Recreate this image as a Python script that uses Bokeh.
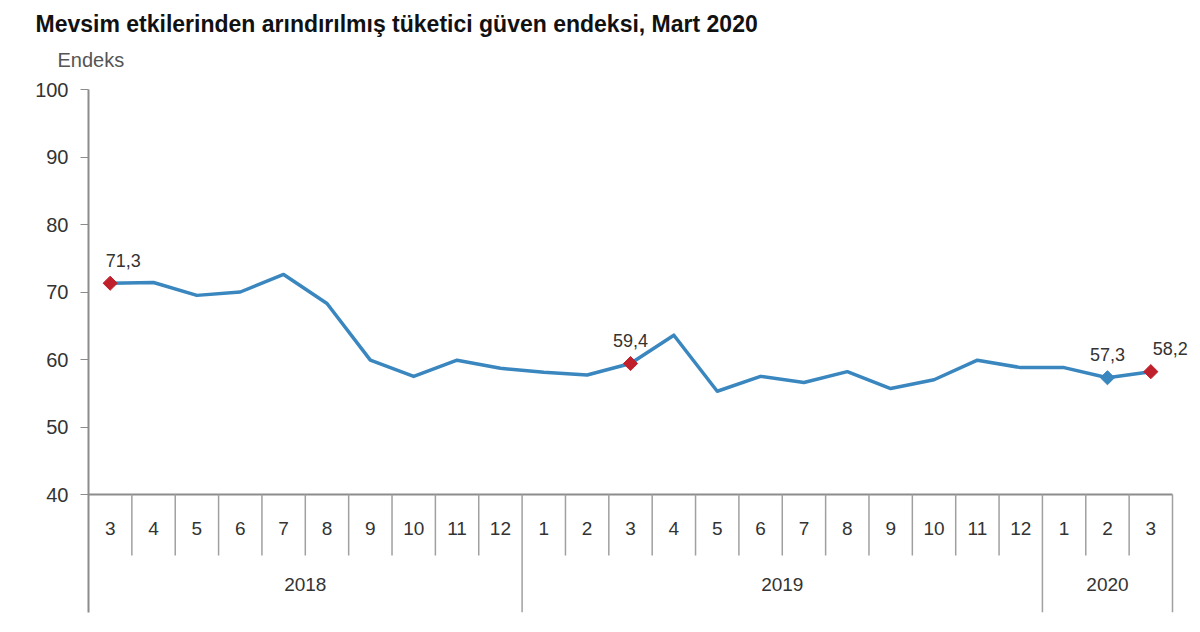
import math
from bokeh.plotting import figure
from bokeh.models import Range1d, FixedTicker, Title
from bokeh.core.properties import value
from bokeh.embed import file_html
from bokeh.resources import INLINE

title_text = "Mevsim etkilerinden arındırılmış tüketici güven endeksi, Mart 2020"
y_label = "Endeks"
month_labels = ["3", "4", "5", "6", "7", "8", "9", "10", "11", "12",
                "1", "2", "3", "4", "5", "6", "7", "8", "9", "10", "11", "12",
                "1", "2", "3"]
year_labels = ["2018", "2019", "2020"]
year_counts = [10, 12, 3]
values = [71.3, 71.4, 69.5, 70.0, 72.6, 68.3, 59.9, 57.5, 59.9, 58.7,
          58.1, 57.7, 59.4, 63.6, 55.3, 57.5, 56.6, 58.2, 55.7, 57.0,
          59.9, 58.8, 58.8, 57.3, 58.2]
red_idx = [0, 12, 24]
blue_idx = [23]
label_idx = [0, 12, 23, 24]
y_ticks = [40, 50, 60, 70, 80, 90, 100]

FONT = "Liberation Sans"
LINE = "#3a86bf"
RED = "#c0202c"
GRID = "#a0a0a0"

n = len(values)
xs = list(range(n))

# pixel geometry helpers (layout only)
px_per_x = 43.36
px_per_y = 6.75
frame_left, frame_top, frame_bottom = 88, 89, 612
W, H = 1200, 632
x0 = -0.5
x1 = x0 + (W - frame_left) / px_per_x
y1 = 100.0
y0 = y1 - (frame_bottom - frame_top) / px_per_y


def ypix(py):
    return y1 - (py - frame_top) / px_per_y


p = figure(width=W, height=H, output_backend="svg", toolbar_location=None,
           x_range=Range1d(x0, x1), y_range=Range1d(y0, y1),
           min_border_left=frame_left, min_border_right=0,
           min_border_top=frame_top, min_border_bottom=H - frame_bottom)
p.title.text = title_text
p.title.text_font = FONT
p.title.text_font_size = "23px"
p.title.text_font_style = "bold"
p.title.text_color = "#111111"
p.title.align = "left"
p.title.offset = 35 - frame_left
p.title.standoff = -18
p.add_layout(Title(text=y_label, text_font=FONT, text_font_size="20px",
                   text_font_style="normal", text_color="#555555", align="left",
                   offset=57 - frame_left, standoff=38), "above")

p.outline_line_color = None
p.xgrid.visible = False
p.ygrid.visible = False
p.xaxis.visible = False
p.background_fill_color = "white"
p.border_fill_color = "white"

ya = p.yaxis[0]
ya.ticker = FixedTicker(ticks=y_ticks)
ya.axis_line_color = "#8c8c8c"
ya.axis_line_width = 2
ya.major_tick_line_color = "#8c8c8c"
ya.major_tick_out = 8
ya.major_tick_in = 0
ya.minor_tick_line_color = None
ya.major_label_text_font = FONT
ya.major_label_text_font_size = "20px"
ya.major_label_text_color = "#333333"
ya.major_label_standoff = 12

# baseline at 40
base = y_ticks[0]
p.segment(x0=[-0.5], y0=[base], x1=[n - 0.5], y1=[base], line_color="#8c8c8c", line_width=2)

# category separators
year_bounds = [0]
for c in year_counts:
    year_bounds.append(year_bounds[-1] + c)
short_x, long_x = [], []
for k in range(1, n + 1):
    if k in year_bounds:
        long_x.append(k - 0.5)
    else:
        short_x.append(k - 0.5)
p.segment(x0=short_x, y0=[base] * len(short_x), x1=short_x, y1=[ypix(555)] * len(short_x),
          line_color=GRID, line_width=1.5)
p.segment(x0=long_x, y0=[base] * len(long_x), x1=long_x, y1=[y0] * len(long_x),
          line_color=GRID, line_width=1.5)

# month labels
p.text(x=xs, y=[ypix(528)] * n, text=month_labels, text_align="center", text_baseline="middle",
       text_font=value(FONT), text_font_size="19px", text_color="#333333")
# year labels
yx = [(year_bounds[i] + year_bounds[i + 1]) / 2 - 0.5 for i in range(len(year_labels))]
p.text(x=yx, y=[ypix(584)] * len(yx), text=year_labels, text_align="center", text_baseline="middle",
       text_font=value(FONT), text_font_size="19px", text_color="#333333")

# series
p.line(xs, values, line_color=LINE, line_width=3.5, line_join="round")
p.scatter([xs[i] for i in red_idx], [values[i] for i in red_idx], marker="square",
          angle=math.pi / 4, size=10, fill_color=RED, line_color=RED)
p.scatter([xs[i] for i in blue_idx], [values[i] for i in blue_idx], marker="square",
          angle=math.pi / 4, size=10, fill_color=LINE, line_color=LINE)

# data labels
lab_dx = {0: 0.3, 12: 0.0, 23: 0.0, 24: 0.45}
lx = [xs[i] + lab_dx[i] for i in label_idx]
ly = [values[i] + 3.4 for i in label_idx]
lt = [("%.1f" % values[i]).replace(".", ",") for i in label_idx]
p.text(x=lx, y=ly, text=lt, text_align="center", text_baseline="middle",
       text_font=value(FONT), text_font_size="18px", text_color="#333333")

open("out.html", "w").write(file_html(p, INLINE))
